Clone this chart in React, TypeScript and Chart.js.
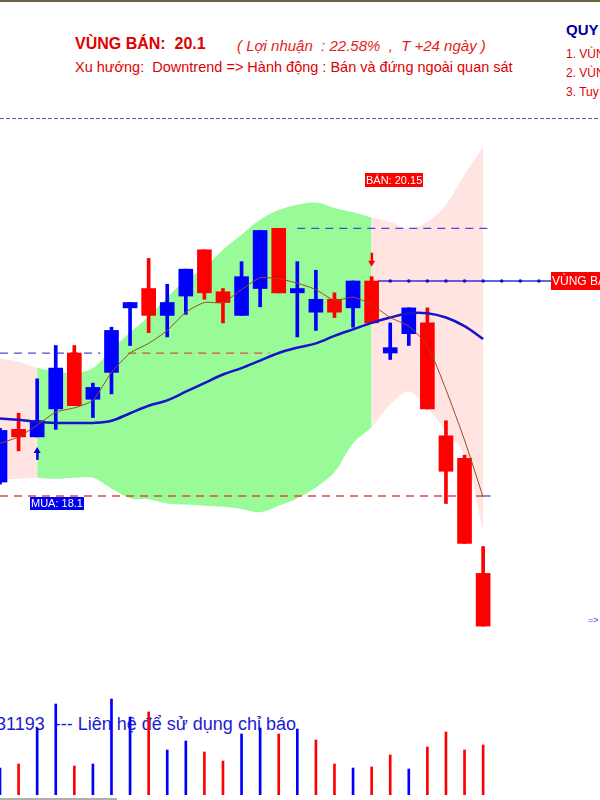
import React, { useEffect, useRef } from "react";
import { Chart, registerables } from "chart.js";

Chart.register(...registerables);

// ---------- data ----------
const candleIndex = [0, 1, 2, 3, 4, 5, 6, 7, 8, 9, 10, 11, 12, 13, 14, 15, 16, 17, 18, 19, 20, 21, 22, 23, 24, 25, 26];
const opens = [18.23, 18.72, 18.65, 18.91, 19.43, 19.0, 19.25, 19.85, 20.03, 19.78, 19.96, 20.39, 20.0, 19.78, 20.03, 20.59, 19.99, 19.81, 19.93, 19.85, 20.1, 19.43, 19.61, 19.71, 18.66, 18.45, 17.38];
const highs = [18.73, 18.87, 19.19, 19.5, 19.5, 19.15, 19.67, 19.9, 20.31, 20.07, 20.21, 20.39, 20.03, 20.28, 20.57, 20.59, 20.28, 20.2, 19.99, 20.1, 20.14, 19.71, 19.85, 19.85, 18.8, 18.48, 17.63];
const lows = [18.21, 18.52, 18.65, 18.72, 18.94, 18.83, 19.05, 19.5, 19.62, 19.58, 19.79, 19.93, 19.71, 19.78, 19.86, 19.99, 19.58, 19.64, 19.76, 19.67, 19.71, 19.37, 19.5, 18.91, 18.03, 17.66, 16.89];
const closes = [18.71, 18.65, 18.8, 19.29, 18.94, 19.11, 19.64, 19.9, 19.78, 19.9, 20.21, 19.99, 19.9, 20.14, 20.57, 19.99, 20.03, 19.93, 19.81, 20.1, 19.71, 19.48, 19.85, 18.91, 18.33, 17.66, 16.89];
const volumes = [270000, 310000, 670000, 910000, 290000, 310000, 960000, 780000, 830000, 450000, 540000, 430000, 340000, 610000, 670000, 610000, 660000, 550000, 310000, 270000, 280000, 400000, 260000, 480000, 630000, 450000, 500000];
const maFast = [18.59, 18.65, 18.76, 18.88, 18.92, 18.99, 19.25, 19.43, 19.52, 19.64, 19.81, 19.9, 19.9, 20.02, 20.13, 20.12, 20.08, 20.02, 19.92, 19.95, 19.88, 19.76, 19.68, 19.5, 19.09, 18.62, 18.09];
const maSlow = [18.82, 18.81, 18.79, 18.78, 18.78, 18.78, 18.8, 18.87, 18.94, 18.99, 19.07, 19.15, 19.23, 19.29, 19.36, 19.43, 19.48, 19.52, 19.59, 19.65, 19.71, 19.76, 19.8, 19.8, 19.76, 19.68, 19.56];
const bandUpper = [19.38, 19.35, 19.29, 19.26, 19.24, 19.29, 19.46, 19.62, 19.77, 19.95, 20.11, 20.22, 20.39, 20.53, 20.67, 20.76, 20.81, 20.83, 20.78, 20.74, 20.69, 20.65, 20.59, 20.65, 20.81, 21.09, 21.35];
const bandLower = [18.25, 18.26, 18.27, 18.26, 18.27, 18.27, 18.17, 18.08, 18.07, 18.03, 18.02, 18.01, 18.0, 17.98, 17.95, 18.01, 18.08, 18.18, 18.32, 18.59, 18.74, 18.95, 19.07, 18.92, 18.7, 18.48, 17.78];
// regime of the band: 0 = pink (sell zone), 1 = green (hold zone)
const bandZones = [[0, 2, 0], [2, 20, 1], [20, 26, 0]];
const buyPrice = 18.1;
const sellZonePrice = 20.1;
const sellSignalPrice = 20.15;
const resistancePrice = 20.59;
const supportPrice = 19.43;
const dotIndex = [21, 22, 23, 24, 25, 26, 27, 28, 29];

const BLUE = "#0000ff";
const RED = "#ff0000";
const PINK = "#ffe4e1";
const GREEN = "#98fb98";

function seg(arr: number[], a: number, b: number) {
  const out: { x: number; y: number }[] = [];
  for (let i = a; i <= b; i++) out.push({ x: candleIndex[i], y: arr[i] });
  return out;
}

const annotationPlugin = {
  id: "annotations",
  afterDatasetsDraw(chart: any) {
    const ctx = chart.ctx as CanvasRenderingContext2D;
    const xs = chart.scales.x;
    const ys = chart.scales.y;
    const px = (v: number) => xs.getPixelForValue(v);
    const py = (v: number) => ys.getPixelForValue(v);
    ctx.save();
    const box = (text: string, left: number, top: number, h: number, bg: string, fg: string, font: string, pad: number) => {
      ctx.font = font;
      const w = ctx.measureText(text).width + pad * 2;
      ctx.fillStyle = bg;
      ctx.fillRect(Math.round(left), Math.round(top), Math.round(w), h);
      ctx.fillStyle = fg;
      ctx.textBaseline = "middle";
      ctx.textAlign = "left";
      ctx.fillText(text, Math.round(left) + pad, Math.round(top) + h / 2 + 0.5);
    };
    // sell signal label
    box("BÁN: " + sellSignalPrice, px(19.65), py(sellSignalPrice) - 103, 14, RED, "#fff", "11px 'Liberation Sans', Arial, sans-serif", 1);
    // buy label
    box("MUA: " + buyPrice, px(1.62), py(buyPrice) + 1, 13, "#0000ee", "#fff", "11px 'Liberation Sans', Arial, sans-serif", 1);
    // sell zone label at right
    box("VÙNG BÁN", px(29.66), py(sellZonePrice) - 9, 18, RED, "#fff", "12px 'Liberation Sans', Arial, sans-serif", 1);

    // up arrow under buy candle
    const ax = px(2);
    const ay = py(lows[2]) + 10;
    ctx.fillStyle = "#0000dd";
    ctx.beginPath();
    ctx.moveTo(ax, ay);
    ctx.lineTo(ax - 3.5, ay + 6);
    ctx.lineTo(ax + 3.5, ay + 6);
    ctx.closePath();
    ctx.fill();
    ctx.fillRect(ax - 1, ay + 5, 2.5, 8);
    // down arrow above sell candle
    const dx = px(20);
    const dy = py(highs[20]) - 10;
    ctx.fillStyle = RED;
    ctx.beginPath();
    ctx.moveTo(dx, dy);
    ctx.lineTo(dx - 3.5, dy - 6);
    ctx.lineTo(dx + 3.5, dy - 6);
    ctx.closePath();
    ctx.fill();
    ctx.fillRect(dx - 1, dy - 14, 2.5, 9);

    // arrow text at far right
    ctx.fillStyle = "#3030e0";
    ctx.font = "9px 'Liberation Sans', Arial, sans-serif";
    ctx.textBaseline = "middle";
    ctx.fillText("=>", px(31.65), py(16.94));
    ctx.restore();
  },
};

export default function App() {
  const ref = useRef<HTMLCanvasElement>(null);

  useEffect(() => {
    if (!ref.current) return;
    const upColor = closes.map((c, i) => (c >= opens[i] ? BLUE : RED));
    const volColor = closes.map((c, i) => (i === 0 || c >= closes[i - 1] ? BLUE : RED));

    const bandSets: any[] = [];
    bandZones.forEach(([a, b, z]) => {
      bandSets.push({
        type: "line",
        data: seg(bandUpper, a, b),
        borderWidth: 0,
        borderColor: "rgba(0,0,0,0)",
        pointRadius: 0,
        tension: 0.35,
        fill: false,
        order: 30,
      });
      bandSets.push({
        type: "line",
        data: seg(bandLower, a, b),
        borderWidth: 0,
        borderColor: "rgba(0,0,0,0)",
        backgroundColor: z === 1 ? GREEN : PINK,
        pointRadius: 0,
        tension: 0.35,
        fill: "-1",
        order: 30,
      });
    });

    const hline = (y: number, x0: number, x1: number, color: string, dash: number[], width = 1.3) => ({
      type: "line",
      data: [
        { x: x0, y },
        { x: x1, y },
      ],
      borderColor: color,
      borderWidth: width,
      borderDash: dash,
      pointRadius: 0,
      fill: false,
      order: 20,
    });

    const chart = new Chart(ref.current, {
      type: "bar",
      data: {
        datasets: [
          ...bandSets,
          hline(supportPrice, 0, 5.4, "#4a4ad8", [8, 6]),
          hline(supportPrice, 6.9, 14.5, "#e04a3a", [8, 6]),
          hline(buyPrice, 0, 26.0, "#e04a3a", [8, 6]),
          hline(buyPrice, 26.0, 26.4, "#4a4ad8", []),
          hline(resistancePrice, 16.0, 26.4, "#4a4ad8", [8, 6]),
          hline(sellZonePrice, 20.35, 29.66, "#3030e0", [], 1.5),
          {
            type: "scatter",
            data: dotIndex.map((i) => ({ x: i, y: sellZonePrice })),
            pointRadius: 1.8,
            pointBackgroundColor: "#1010c0",
            pointBorderWidth: 0,
            showLine: false,
            order: 19,
          },
          {
            type: "bar",
            yAxisID: "yv",
            data: candleIndex.map((i) => ({ x: i, y: volumes[i] })),
            backgroundColor: volColor,
            barThickness: 2,
            grouped: false,
            order: 18,
          },
          {
            type: "bar",
            data: candleIndex.map((i) => ({ x: i, y: [lows[i], highs[i]] })),
            backgroundColor: upColor,
            barThickness: 3,
            grouped: false,
            order: 6,
          },
          {
            type: "bar",
            data: candleIndex.map((i) => ({ x: i, y: [opens[i], closes[i]] })),
            backgroundColor: upColor,
            barThickness: 14,
            minBarLength: 3,
            grouped: false,
            order: 5,
          },
          {
            type: "line",
            data: candleIndex.map((i) => ({ x: i, y: maSlow[i] })),
            borderColor: "#1414c8",
            borderWidth: 2.5,
            pointRadius: 0,
            tension: 0.35,
            fill: false,
            order: 3,
          },
          {
            type: "line",
            data: candleIndex.map((i) => ({ x: i, y: maFast[i] })),
            borderColor: "#9a4a22",
            borderWidth: 1,
            pointRadius: 0,
            tension: 0.2,
            fill: false,
            order: 2,
          },
        ] as any,
      },
      options: {
        animation: false,
        responsive: false,
        devicePixelRatio: 1,
        events: [],
        layout: { autoPadding: false, padding: { top: 120, bottom: 5, left: 0, right: 0 } },
        plugins: { legend: { display: false }, tooltip: { enabled: false } },
        scales: {
          x: { type: "linear", min: 0, max: 32.29, offset: false, display: false, grid: { display: false } },
          y: { type: "linear", min: 15.3186, max: 21.5977, display: false, grid: { display: false } },
          yv: { type: "linear", min: 0, max: 6750000, display: false, grid: { display: false } },
        },
      } as any,
      plugins: [annotationPlugin],
    });
    return () => chart.destroy();
  }, []);

  const font = "'Liberation Sans', Arial, sans-serif";
  return (
    <div
      style={{
        position: "absolute",
        left: 0,
        top: 0,
        width: 600,
        height: 800,
        overflow: "hidden",
        background: "#ffffff",
        fontFamily: font,
      }}
    >
      <div style={{ position: "absolute", left: 0, top: 0, width: 600, height: 2, background: "#6e6440" }} />
      <div style={{ position: "absolute", left: 75, top: 35, whiteSpace: "pre", color: "#e00000", fontWeight: "bold", fontSize: 16 }}>
        VÙNG BÁN:  20.1
      </div>
      <div style={{ position: "absolute", left: 237, top: 37, whiteSpace: "pre", color: "#e82020", fontStyle: "italic", fontSize: 15 }}>
        ( Lợi nhuận  : 22.58%  ,  T +24 ngày )
      </div>
      <div style={{ position: "absolute", left: 75, top: 59, whiteSpace: "pre", color: "#e00000", fontSize: 14.5 }}>
        Xu hướng:  Downtrend =&gt; Hành động : Bán và đứng ngoài quan sát
      </div>
      <div style={{ position: "absolute", left: 566, top: 21, whiteSpace: "pre", color: "#0000a0", fontWeight: "bold", fontSize: 15 }}>
        QUY
      </div>
      <div style={{ position: "absolute", left: 566, top: 47, whiteSpace: "pre", color: "#e00000", fontSize: 12 }}>1. VÙNG</div>
      <div style={{ position: "absolute", left: 566, top: 66, whiteSpace: "pre", color: "#e00000", fontSize: 12 }}>2. VÙNG</div>
      <div style={{ position: "absolute", left: 566, top: 85, whiteSpace: "pre", color: "#e00000", fontSize: 12 }}>3. Tuy</div>
      <div
        style={{
          position: "absolute",
          left: 0,
          top: 118,
          width: 600,
          height: 1,
          backgroundImage: "repeating-linear-gradient(to right, #5a5ac0 0 4px, transparent 4px 6px)",
        }}
      />
      <div style={{ position: "absolute", left: -4, top: 714, whiteSpace: "pre", color: "#1c1cd0", fontSize: 18 }}>
        31193  --- Liên hệ để sử dụng chỉ báo
      </div>
      <div style={{ position: "absolute", left: 0, top: 798, width: 117, height: 2, background: "#b0b0b0" }} />
      <canvas ref={ref} width={600} height={800} style={{ position: "absolute", left: 0, top: 0, width: 600, height: 800 }} />
    </div>
  );
}
